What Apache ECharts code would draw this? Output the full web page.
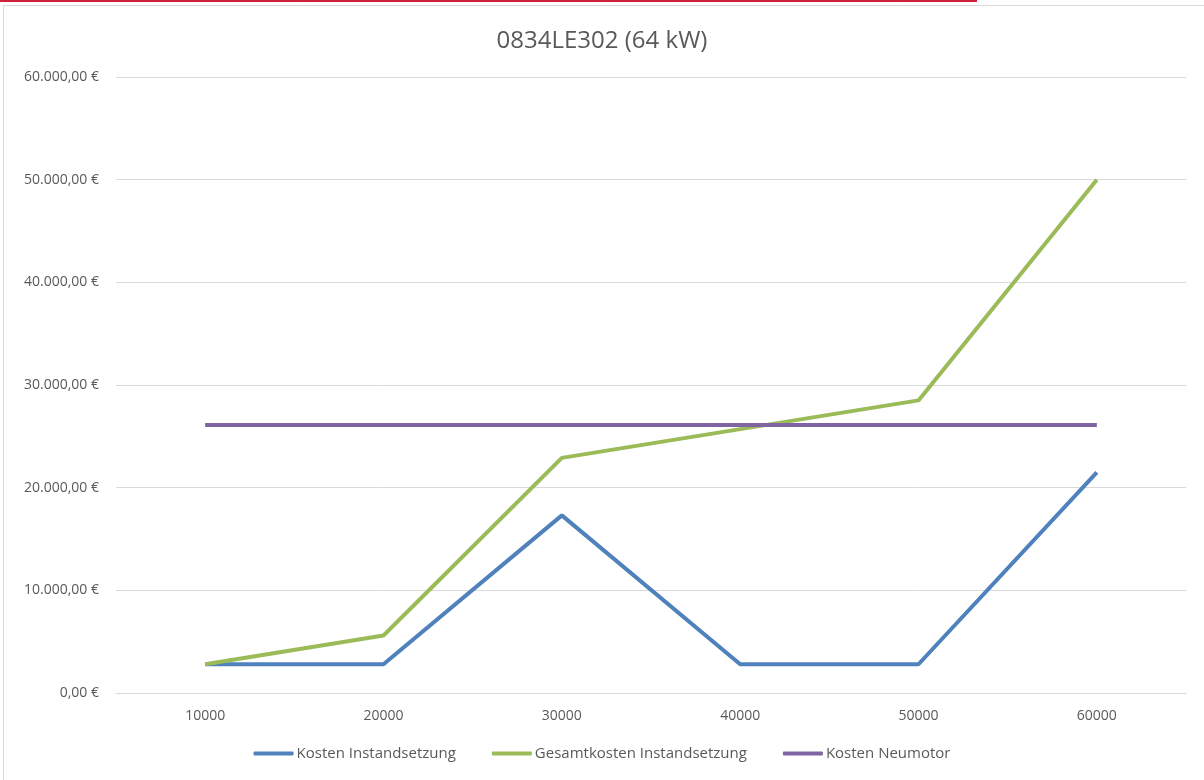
<!DOCTYPE html>
<html>
<head>
<meta charset="utf-8">
<script src="https://cdn.jsdelivr.net/npm/echarts@6/dist/echarts.min.js"></script>
<style>
  html, body { margin: 0; padding: 0; background: #fff; }
  #chart { width: 1204px; height: 780px; }
</style>
</head>
<body>
<div id="chart"></div>
<script>
// Daten
var laufleistung = ["10000", "20000", "30000", "40000", "50000", "60000"];
var kostenInstandsetzung = [2800, 2800, 17300, 2800, 2800, 21500];
var gesamtkosten = [2800, 5600, 22900, 25700, 28500, 50000];
var kostenNeumotor = [26100, 26100, 26100, 26100, 26100, 26100];

var myChart = echarts.init(document.getElementById("chart"));

function euro(v) {
  var s = Math.round(v).toString().replace(/\B(?=(\d{3})+(?!\d))/g, ".");
  return s + ",00 €";
}

var font = "'Open Sans', 'Noto Sans', sans-serif";
var option = {
  backgroundColor: "#fff",
  textStyle: { fontFamily: font },
  title: {
    text: "0834LE302 (64 kW)",
    left: "center",
    top: 24,
    textStyle: { fontSize: 24, fontWeight: "normal", color: "#595959", fontFamily: font }
  },
  color: ["#4F81BD", "#9BBB59", "#8064A2"],
  graphic: [
    { type: "rect", shape: { x: 0, y: 0, width: 977, height: 2 }, style: { fill: "#d0213a" } },
    { type: "line", shape: { x1: 3, y1: 5.5, x2: 1204, y2: 5.5 }, style: { stroke: "#d9d9d9", lineWidth: 1 } },
    { type: "line", shape: { x1: 3.5, y1: 5, x2: 3.5, y2: 780 }, style: { stroke: "#d9d9d9", lineWidth: 1 } }
  ],
  legend: {
    bottom: 14,
    left: "center",
    itemWidth: 40,
    itemHeight: 4,
    itemGap: 36,
    icon: "roundRect",
    textStyle: { fontSize: 15, color: "#595959", padding: [0, 0, 0, -2] },
    data: ["Kosten Instandsetzung", "Gesamtkosten Instandsetzung", "Kosten Neumotor"]
  },
  grid: { left: 116, right: 18, top: 77, bottom: 87, containLabel: false },
  xAxis: {
    type: "category",
    data: laufleistung,
    boundaryGap: true,
    axisLine: { lineStyle: { color: "#d9d9d9", width: 1 } },
    axisTick: { show: false },
    axisLabel: { color: "#595959", fontSize: 14, margin: 16 }
  },
  yAxis: {
    type: "value",
    min: 0,
    max: 60000,
    interval: 10000,
    axisLine: { show: false },
    axisTick: { show: false },
    splitLine: { lineStyle: { color: "#d9d9d9", width: 1 } },
    axisLabel: { color: "#595959", fontSize: 14, margin: 17, formatter: euro }
  },
  series: [
    {
      name: "Kosten Instandsetzung", type: "line", data: kostenInstandsetzung,
      showSymbol: false, lineStyle: { width: 4 }, z: 2
    },
    {
      name: "Gesamtkosten Instandsetzung", type: "line", data: gesamtkosten,
      showSymbol: false, lineStyle: { width: 4 }, z: 3
    },
    {
      name: "Kosten Neumotor", type: "line", data: kostenNeumotor,
      showSymbol: false, lineStyle: { width: 4 }, z: 4
    }
  ]
};
myChart.setOption(option);
</script>
</body>
</html>
